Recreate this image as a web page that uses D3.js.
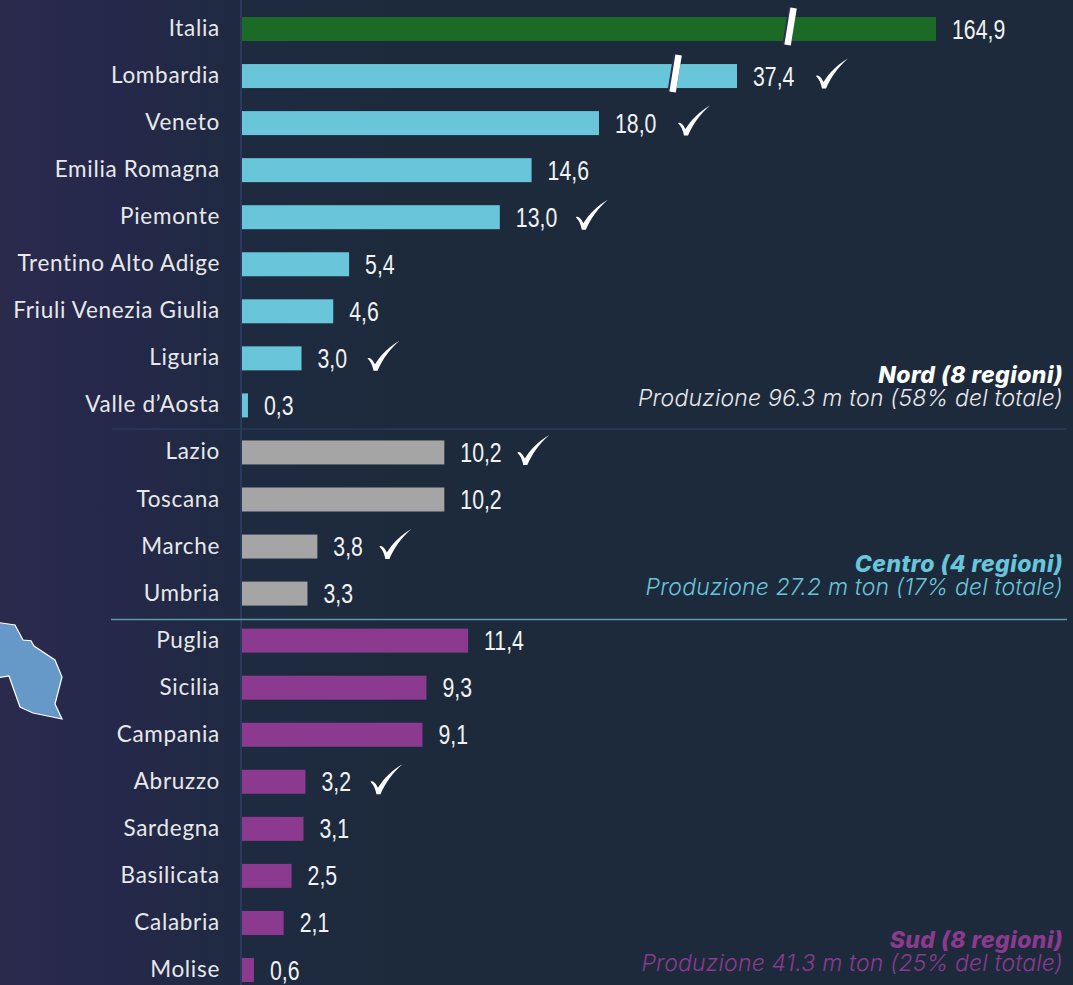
<!DOCTYPE html>
<html><head><meta charset="utf-8">
<script src="https://cdn.jsdelivr.net/npm/d3@7"></script>
<style>html,body{margin:0;padding:0;background:#1d2a3c;overflow:hidden}svg{display:block}</style>
</head><body><svg id="c" width="1073" height="985"></svg>
<script>
const regions=["Italia","Lombardia","Veneto","Emilia Romagna","Piemonte","Trentino Alto Adige","Friuli Venezia Giulia","Liguria","Valle d’Aosta","Lazio","Toscana","Marche","Umbria","Puglia","Sicilia","Campania","Abruzzo","Sardegna","Basilicata","Calabria","Molise"];
const production=[164.9,37.4,18.0,14.6,13.0,5.4,4.6,3.0,0.3,10.2,10.2,3.8,3.3,11.4,9.3,9.1,3.2,3.1,2.5,2.1,0.6];
const groups=["Totale","Nord","Nord","Nord","Nord","Nord","Nord","Nord","Nord","Centro","Centro","Centro","Centro","Sud","Sud","Sud","Sud","Sud","Sud","Sud","Sud"];
const checked=["Lombardia","Veneto","Piemonte","Liguria","Lazio","Marche","Abruzzo"];
const checkGaps=[79,79,76,66,73,62,65];
const broken=[["Italia",71.4],["Lombardia",28.7]];
const groupNames=["Totale","Nord","Centro","Sud"];
const groupColors=["#1b6b27","#69c5da","#a5a5a5","#8b3a8f"];
const notes=[
 {t:"Nord (8 regioni)",s:"Produzione 96.3 m ton (58% del totale)",c:"#ffffff",last:"Valle d’Aosta"},
 {t:"Centro (4 regioni)",s:"Produzione 27.2 m ton (17% del totale)",c:"#69c5da",last:"Umbria"},
 {t:"Sud (8 regioni)",s:"Produzione 41.3 m ton (25% del totale)",c:"#8b3a8f",last:"Molise"}];
const mapShape="M-5,622 L15,625 L23,640 L31,640.7 L34,646 L55,660 L62,677 L55,704 L62,719 L33,713 L20,707 L9,676 L-5,678 Z";
const checkShape="M0,0 C3,-2 6,3 7.5,6 C13,-3 22,-12 32,-17.5 C22,-9 15,1 10,12.5 L6,12.5 C5,7 3,3 0,0 Z";

const W=1073,H=985;
const svg=d3.select("#c");
const grad=svg.append("defs").append("linearGradient").attr("id","bg");
grad.append("stop").attr("offset",0).attr("stop-color","#2a2a4d");
grad.append("stop").attr("offset",0.11).attr("stop-color","#25284a");
grad.append("stop").attr("offset",0.23).attr("stop-color","#1e2a40");
grad.append("stop").attr("offset",0.4).attr("stop-color","#1d2a3b");
svg.append("rect").attr("width",W).attr("height",H).attr("fill","url(#bg)");

// broken axis: the two longest bars are compressed past the slash marks
const x=d3.scaleLinear().domain([0,18,37.4,164.9]).range([242,599,737,936]);
const y=d3.scalePoint().domain(regions).range([29,970]);
const color=d3.scaleOrdinal(groupNames,groupColors);
const barH=24;

svg.append("path").attr("d",mapShape).attr("fill","#6699c8").attr("stroke","#fff").attr("stroke-width",1.2);

svg.append("line").attr("x1",241).attr("x2",241).attr("y1",0).attr("y2",H).attr("stroke","#2b3a5c").attr("stroke-width",2);
svg.append("line").attr("x1",112).attr("x2",1067).attr("y1",429).attr("y2",429).attr("stroke","#2b3a5c").attr("stroke-width",1.5);
svg.append("line").attr("x1",111).attr("x2",1067).attr("y1",619.5).attr("y2",619.5).attr("stroke","#5a9aaa").attr("stroke-width",1.5);

svg.append("g").selectAll("rect").data(regions).join("rect")
  .attr("x",x(0)).attr("y",d=>y(d)-barH/2)
  .attr("width",(d,i)=>x(production[i])-x(0)).attr("height",barH)
  .attr("fill",(d,i)=>color(groups[i]));

svg.append("g").selectAll("text").data(regions).join("text")
  .attr("x",220).attr("y",d=>y(d)+7).attr("text-anchor","end")
  .attr("font-family","Lato, 'Noto Sans', sans-serif").attr("font-size",22.5).attr("letter-spacing",0.7)
  .attr("fill","#e8e8ea").text(d=>d);

const fmt=v=>v.toFixed(1).replace(".",",");
svg.append("g").selectAll("text").data(production).join("text")
  .attr("transform",(v,i)=>`translate(${x(v)+16},${y(regions[i])+9.5}) scale(0.76,1)`)
  .attr("font-family","'Liberation Sans',sans-serif").attr("font-size",28)
  .attr("fill","#f2f2f2").text(fmt);

// slash marks for the broken bars
const slash=svg.append("g").selectAll("g").data(broken).join("g");
slash.append("line").attr("x1",d=>x(d[1])+2.5).attr("x2",d=>x(d[1])-3.5).attr("y1",d=>y(d[0])-21).attr("y2",d=>y(d[0])+16)
  .attr("stroke","#2a2f55").attr("stroke-width",8.5);
slash.append("line").attr("x1",d=>x(d[1])+3.5).attr("x2",d=>x(d[1])-2.5).attr("y1",d=>y(d[0])-21).attr("y2",d=>y(d[0])+16)
  .attr("stroke","#fff").attr("stroke-width",6.5);

// check marks
svg.append("g").selectAll("path").data(checked).join("path")
  .attr("d",checkShape).attr("fill","#fff")
  .attr("transform",(d,k)=>{
    const i=regions.indexOf(d);
    return `translate(${x(production[i])+checkGaps[k]},${y(d)})`;
  });

const notesG=svg.append("g").attr("text-anchor","end").attr("font-family","Inter, Lato, sans-serif");
notes.forEach(n=>{
  const base=y(n.last);
  notesG.append("text").attr("x",1063).attr("y",base-22).attr("font-size",23).attr("letter-spacing",0.45).attr("font-weight",800).attr("font-style","italic").attr("fill",n.c).text(n.t);
  notesG.append("text").attr("x",1063).attr("y",base+1).attr("font-size",23).attr("letter-spacing",0.2).attr("font-style","italic").attr("font-weight",300).attr("fill",n.c==="#ffffff"?"#e8e8ea":n.c).text(n.s);
});
</script></body></html>
